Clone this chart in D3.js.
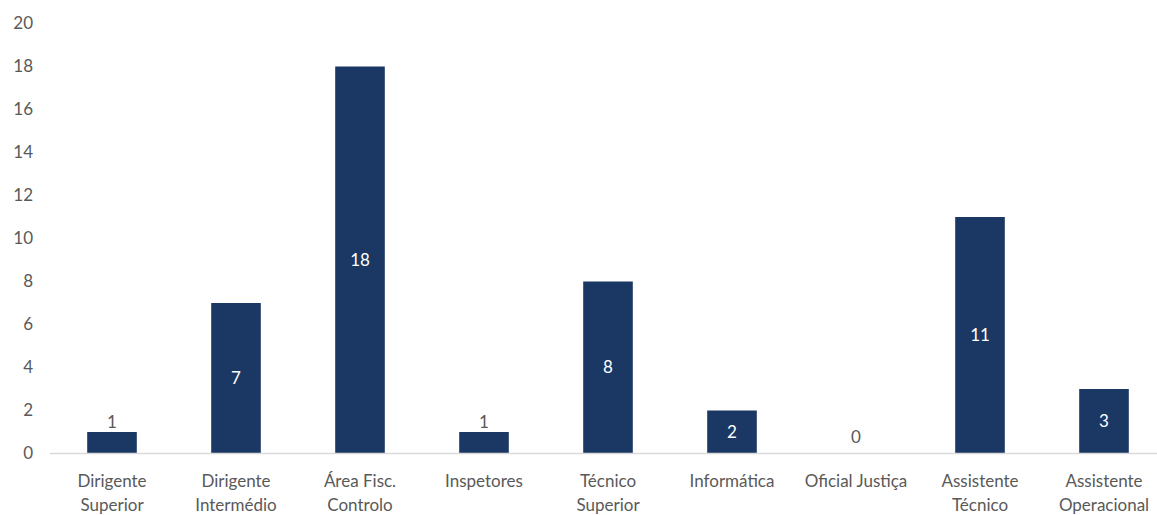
<!DOCTYPE html>
<html>
<head>
<meta charset="utf-8">
<script src="https://cdn.jsdelivr.net/npm/d3@7"></script>
<style>
  html, body { margin: 0; padding: 0; background: #ffffff; }
  svg { display: block; }
  text { font-family: Lato, "Open Sans", sans-serif; }
</style>
</head>
<body>
<svg id="chart" width="1157" height="515"></svg>
<script>
// Staff count per career group
const categories = [
  ["Dirigente", "Superior"],
  ["Dirigente", "Intermédio"],
  ["Área Fisc.", "Controlo"],
  ["Inspetores"],
  ["Técnico", "Superior"],
  ["Informática"],
  ["Oficial Justiça"],
  ["Assistente", "Técnico"],
  ["Assistente", "Operacional"]
];
const values = [1, 7, 18, 1, 8, 2, 0, 11, 3];
const yTicks = [0, 2, 4, 6, 8, 10, 12, 14, 16, 18, 20];

const width = 1157, height = 515;
const margin = { left: 50, right: -9, top: 24, bottom: 61 };
const svg = d3.select("#chart");

const keys = categories.map((c, i) => i);
const x = d3.scaleBand()
  .domain(keys)
  .range([margin.left, width - margin.right])
  .paddingInner(0.6)
  .paddingOuter(0.3);

const y = d3.scaleLinear()
  .domain([0, 20])
  .range([height - margin.bottom - 0.5, height - margin.bottom - 0.5 - 430]);

const textColor = "#595959";
const barColor = "#1b3764";

// y axis labels (no axis line, no ticks)
const yAxis = d3.axisLeft(y).tickValues(yTicks).tickSize(0).tickPadding(0);
svg.append("g")
  .attr("transform", "translate(33,0)")
  .call(yAxis)
  .call(g => g.select(".domain").remove())
  .call(g => g.selectAll("text")
    .attr("fill", textColor)
    .style("font-size", "17px")
    .style("font-family", "Lato, 'Open Sans', sans-serif"));

// bars
svg.append("g").selectAll("rect")
  .data(values)
  .join("rect")
  .attr("x", (d, i) => x(i))
  .attr("y", d => y(d))
  .attr("width", x.bandwidth())
  .attr("height", d => y(0) - y(d))
  .attr("fill", barColor);

// baseline
svg.append("line")
  .attr("x1", margin.left).attr("x2", width)
  .attr("y1", y(0)).attr("y2", y(0))
  .attr("stroke", "#d9d9d9").attr("stroke-width", 1.5);

// value labels: inside tall bars, above short ones
svg.append("g").selectAll("text")
  .data(values)
  .join("text")
  .attr("x", (d, i) => x(i) + x.bandwidth() / 2)
  .attr("y", d => d >= 2 ? (y(d) + y(0)) / 2 : y(d) - (d === 0 ? 11 : 4))
  .attr("dy", d => d >= 2 ? "0.35em" : "0")
  .attr("text-anchor", "middle")
  .attr("fill", d => d >= 2 ? "#ffffff" : textColor)
  .style("font-size", "17px")
  .text(d => d);

// category labels
const xAxis = d3.axisBottom(x).tickSize(0).tickFormat(() => "");
const gx = svg.append("g")
  .attr("transform", `translate(0,${y(0)})`)
  .call(xAxis)
  .call(g => g.select(".domain").remove());

gx.selectAll(".tick").each(function(i) {
  const t = d3.select(this).append("text")
    .attr("text-anchor", "middle")
    .attr("fill", textColor)
    .style("font-size", "17px");
  categories[i].forEach((line, k) => {
    t.append("tspan")
      .attr("x", 0)
      .attr("y", 33 + k * 24)
      .text(line);
  });
});
</script>
</body>
</html>
